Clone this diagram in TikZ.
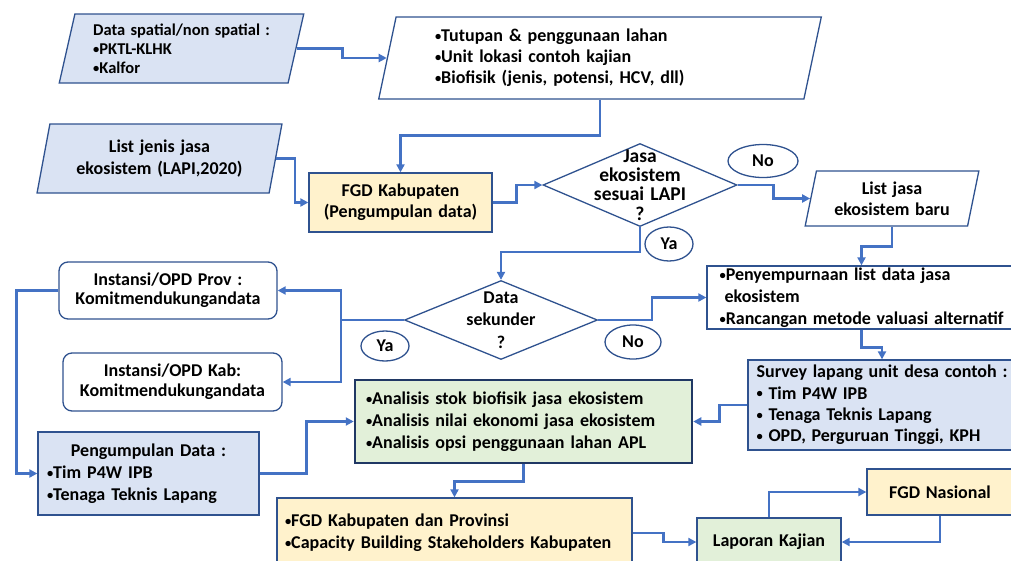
\documentclass[tikz,border=0pt]{standalone}
\usepackage{fontspec}
\setmainfont{Carlito}[WordSpace=1.4]
\usepackage{xcolor}
\usetikzlibrary{shapes.geometric, arrows.meta, positioning, calc}

\definecolor{boxblue}{HTML}{DAE3F3}
\definecolor{boxyellow}{HTML}{FFF2CC}
\definecolor{boxgreen}{HTML}{E2F0D9}
\definecolor{edge}{HTML}{2F528F}
\definecolor{navy}{HTML}{203864}
\definecolor{flowblue}{HTML}{4472C4}

\newcommand{\txtsz}[2]{\fontsize{#1}{#2}\selectfont\bfseries}
\newcommand{\txt}[1]{\txtsz{18}{#1}}
\newcommand{\bul}{\raisebox{1.2pt}{\fontsize{12.5}{12.5}\selectfont•}}

\begin{document}
\begin{tikzpicture}[x=1pt, y=-1pt,
  every node/.style={font=\txt{21}, inner sep=0pt},
  box/.style={draw=edge, line width=1.3pt, rectangle},
  rbox/.style={box, rounded corners=9pt},
  para/.style={draw=edge, line width=1.3pt, trapezium, trapezium stretches=true},
  decide/.style={draw=edge, line width=1.3pt, diamond},
  ans/.style={draw=edge, line width=1.3pt, ellipse},
  flow/.style={draw=flowblue, line width=2.5pt, -{Triangle[length=8pt, width=8pt]}}]
\useasboundingbox (0,0) rectangle (1011,560);
\clip (0,0) rectangle (1011,560);

\node[para, fill=boxblue, trapezium left angle=75.4, trapezium right angle=104.6, minimum width=245pt, minimum height=69pt, align=left, font=\txtsz{16.5}{19}] (spasial) at (181.5,48.5) {Data spatial/non spatial :\\\bul PKTL-KLHK\\\bul Kalfor};
\node[para, fill=white, trapezium left angle=76.3, trapezium right angle=103.7, minimum width=445pt, minimum height=82pt, text width=330pt, align=left] (tutupan) at (600,58) {\bul Tutupan \& penggunaan lahan\\\bul Unit lokasi contoh kajian\\\bul Biofisik (jenis, potensi, HCV, dll)};
\node[para, fill=boxblue, trapezium left angle=75.4, trapezium right angle=104.6, minimum width=245pt, minimum height=69pt, align=center, font=\txt{22}] (jenis) at (159.5,158.5) {List jenis jasa\\ekosistem (LAPI,2020)};
\node[box, fill=boxyellow, minimum width=183pt, minimum height=59pt, align=center] (fgdkab) at (400.5,202.5) {FGD Kabupaten\\(Pengumpulan data)};
\node[decide, fill=white, minimum width=194pt, minimum height=83pt, label={[align=center, font=\txtsz{19.5}{19.3}]center:{Jasa\\ekosistem\\sesuai LAPI\\?}}] (sesuai) at (640,185) {};
\node[para, fill=white, trapezium left angle=75.7, trapezium right angle=104.3, minimum width=174pt, minimum height=55pt, align=center] (baru) at (892,198.5) {List jasa\\ekosistem baru};
\node[ans, minimum width=70pt, minimum height=33pt] (no1) at (763,161) {No};
\node[ans, minimum width=48pt, minimum height=34pt] (ya1) at (669,244) {Ya};

\node[box, fill=white, minimum width=309pt, minimum height=63pt, align=left, font=\txt{22}] (sempurna) at (861.5,297.5) {\bul Penyempurnaan list data jasa\\\hspace*{5pt}ekosistem\\\bul Rancangan metode valuasi alternatif};
\node[decide, fill=white, minimum width=193pt, minimum height=79pt, label={[align=center, font=\txt{22.5}]center:{Data\\sekunder\\?}}] (sekunder) at (501,320) {};
\node[ans, minimum width=48pt, minimum height=30pt] (ya2) at (385,346) {Ya};
\node[ans, minimum width=56pt, minimum height=34pt] (no2) at (633,342) {No};

\node[rbox, minimum width=218pt, minimum height=57pt, align=center, font=\txt{19}] (prov) at (168,290.5) {Instansi/OPD Prov :\\Komitmendukungandata};
\node[rbox, minimum width=219pt, minimum height=58pt, align=center, font=\txt{20}] (kab) at (172.5,382) {Instansi/OPD Kab:\\Komitmendukungandata};
\node[box, fill=boxblue, minimum width=221pt, minimum height=83pt, text width=203pt, align=left, font=\txt{22}] (pengumpulan) at (148.5,473.5) {\hbox to\hsize{\hfil Pengumpulan Data :\hfil}\\\bul Tim P4W IPB\\\bul Tenaga Teknis Lapang};
\node[box, draw=navy, line width=2.5pt, fill=boxgreen, minimum width=337pt, minimum height=83pt, text width=315pt, align=left, font=\txt{22}] (analisis) at (523.5,421.5) {\bul Analisis stok biofisik jasa ekosistem\\\bul Analisis nilai ekonomi jasa ekosistem\\\bul Analisis opsi penggunaan lahan APL};
\node[box, fill=boxblue, minimum width=268pt, minimum height=90pt, align=left, font=\txt{21.3}] (survey) at (882,405) {Survey lapang unit desa contoh :\\\bul\ Tim P4W IPB\\\bul\ Tenaga Teknis Lapang\\\bul\ OPD, Perguruan Tinggi, KPH};
\node[box, fill=boxyellow, minimum width=355pt, minimum height=70pt, text width=339pt, align=left, font=\txt{22}] (fgdprov) at (454.5,533) {\bul FGD Kabupaten dan Provinsi\\\bul Capacity Building Stakeholders Kabupaten};
\node[box, fill=boxgreen, minimum width=144pt, minimum height=48pt] (laporan) at (769,542) {Laporan Kajian};
\node[box, fill=boxyellow, minimum width=146pt, minimum height=46pt] (nasional) at (940,492) {FGD Nasional};

\draw[flow] (spasial.right side) -- ++(46,0) |- (tutupan.left side);
\draw[flow] (tutupan.south) -- ++(0,36) -| (fgdkab.north);
\draw[flow] (jenis.right side) -- ++(19,0) |- (fgdkab.west);
\draw[flow] (fgdkab.east) -- ++(24,0) |- (sesuai.west);
\draw[flow] (sesuai.east) -- ++(36,0) |- (baru.left side);
\draw[flow] (baru.south) -- ++(0,20) -| (sempurna.north);
\draw[flow] (sesuai.south) -- ++(0,25) -| (sekunder.north);
\draw[flow] (sekunder.east) -- ++(54,0) |- (sempurna.west);
\draw[flow] (sekunder.west) -- ++(-63,0) coordinate (cabang) |- (prov.east);
\draw[flow] (cabang) |- (kab.east);
\draw[flow] (prov.west) -- ++(-42,0) |- (pengumpulan.west);
\draw[flow] (pengumpulan.east) -- ++(47,0) |- (analisis.west);
\draw[flow] (sempurna.south) -- ++(0,18) -| (survey.north);
\draw[flow] (survey.west) -- ++(-28,0) |- (analisis.east);
\draw[flow] (analisis.south) -- ++(0,17) -| (fgdprov.north);
\draw[flow] (fgdprov.east) -- ++(31,0) |- (laporan.west);
\draw[flow] (laporan.north) |- (nasional.west);
\draw[flow] (nasional.south) |- (laporan.east);
\end{tikzpicture}
\end{document}
